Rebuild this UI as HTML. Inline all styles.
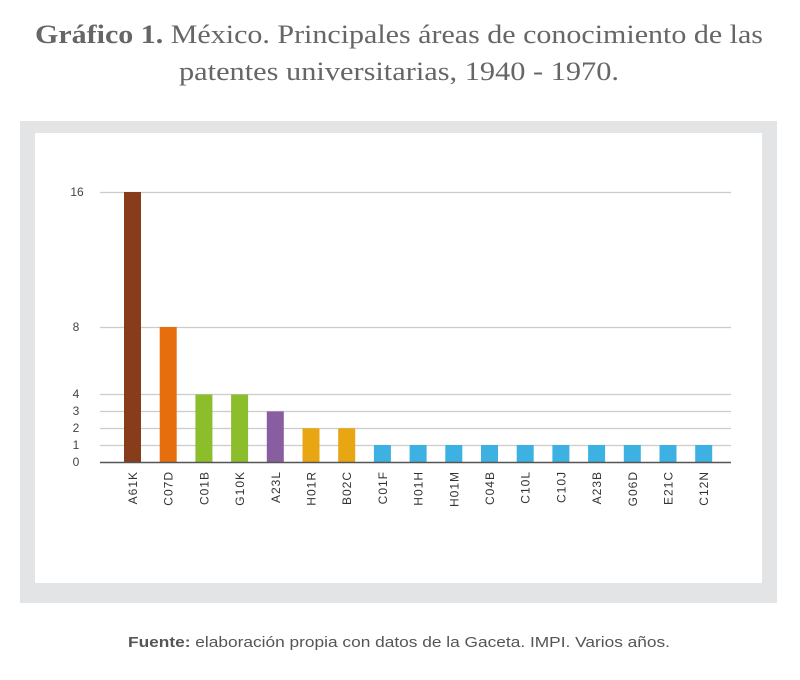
<!DOCTYPE html>
<html><head><meta charset="utf-8"><style>
html,body{margin:0;padding:0;background:#fff;}
svg{display:block;}
</style></head><body>
<svg width="800" height="680" viewBox="0 0 800 680" xmlns="http://www.w3.org/2000/svg">
<text x="399" y="43" text-anchor="middle" font-family="Liberation Serif, serif" font-size="26" fill="#666" textLength="728" lengthAdjust="spacingAndGlyphs"><tspan font-weight="bold">Gráfico 1.</tspan> México. Principales áreas de conocimiento de las</text>
<text x="399" y="80" text-anchor="middle" font-family="Liberation Serif, serif" font-size="26" fill="#666" textLength="440" lengthAdjust="spacingAndGlyphs">patentes universitarias, 1940 - 1970.</text>
<rect x="20" y="121" width="757" height="482" fill="#e3e4e5"/>
<rect x="35" y="133" width="727" height="450" fill="#fff"/>
<g stroke="#ccc" stroke-width="1.3">
<line x1="100" x2="731" y1="192.5" y2="192.5"/>
<line x1="100" x2="731" y1="327.5" y2="327.5"/>
<line x1="100" x2="731" y1="394.5" y2="394.5"/>
<line x1="100" x2="731" y1="411.5" y2="411.5"/>
<line x1="100" x2="731" y1="428.5" y2="428.5"/>
<line x1="100" x2="731" y1="445.5" y2="445.5"/>
</g>
<g font-family="Liberation Sans, sans-serif" font-size="12" fill="#444" text-anchor="middle">
<text x="77" y="196">16</text><text x="76" y="331">8</text><text x="76" y="398">4</text>
<text x="76" y="415">3</text><text x="76" y="432">2</text><text x="76" y="449">1</text><text x="76" y="466">0</text>
</g>
<g>
<rect x="124" y="192" width="17" height="270" fill="#873d1a"/>
<rect x="159.7" y="327" width="17" height="135" fill="#e76e0c"/>
<rect x="195.4" y="394.5" width="17" height="67.5" fill="#8cbd2a"/>
<rect x="231.1" y="394.5" width="17" height="67.5" fill="#8cbd2a"/>
<rect x="266.8" y="411.4" width="17" height="50.6" fill="#895ea0"/>
<rect x="302.5" y="428.3" width="17" height="33.7" fill="#e8a613"/>
<rect x="338.2" y="428.3" width="17" height="33.7" fill="#e8a613"/>
<g fill="#3db1e2">
<rect x="373.9" y="445" width="17" height="17"/><rect x="409.6" y="445" width="17" height="17"/>
<rect x="445.3" y="445" width="17" height="17"/><rect x="481" y="445" width="17" height="17"/>
<rect x="516.7" y="445" width="17" height="17"/><rect x="552.4" y="445" width="17" height="17"/>
<rect x="588.1" y="445" width="17" height="17"/><rect x="623.8" y="445" width="17" height="17"/>
<rect x="659.5" y="445" width="17" height="17"/><rect x="695.2" y="445" width="17" height="17"/>
</g>
</g>
<line x1="100" x2="731" y1="462.5" y2="462.5" stroke="#555" stroke-width="1.5"/>
<g font-family="Liberation Sans, sans-serif" font-size="12" fill="#333" text-anchor="end" letter-spacing="1">
<text transform="translate(137,471) rotate(-90)">A61K</text>
<text transform="translate(172.7,471) rotate(-90)">C07D</text>
<text transform="translate(208.4,471) rotate(-90)">C01B</text>
<text transform="translate(244.1,471) rotate(-90)">G10K</text>
<text transform="translate(279.8,471) rotate(-90)">A23L</text>
<text transform="translate(315.5,471) rotate(-90)">H01R</text>
<text transform="translate(351.2,471) rotate(-90)">B02C</text>
<text transform="translate(386.9,471) rotate(-90)">C01F</text>
<text transform="translate(422.6,471) rotate(-90)">H01H</text>
<text transform="translate(458.3,471) rotate(-90)">H01M</text>
<text transform="translate(494,471) rotate(-90)">C04B</text>
<text transform="translate(529.7,471) rotate(-90)">C10L</text>
<text transform="translate(565.4,471) rotate(-90)">C10J</text>
<text transform="translate(601.1,471) rotate(-90)">A23B</text>
<text transform="translate(636.8,471) rotate(-90)">G06D</text>
<text transform="translate(672.5,471) rotate(-90)">E21C</text>
<text transform="translate(708.2,471) rotate(-90)">C12N</text>
</g>
<text x="399" y="647" text-anchor="middle" font-family="Liberation Sans, sans-serif" font-size="15" fill="#555" textLength="542" lengthAdjust="spacingAndGlyphs"><tspan font-weight="bold">Fuente:</tspan> elaboración propia con datos de la Gaceta. IMPI. Varios años.</text>
</svg>
</body></html>
